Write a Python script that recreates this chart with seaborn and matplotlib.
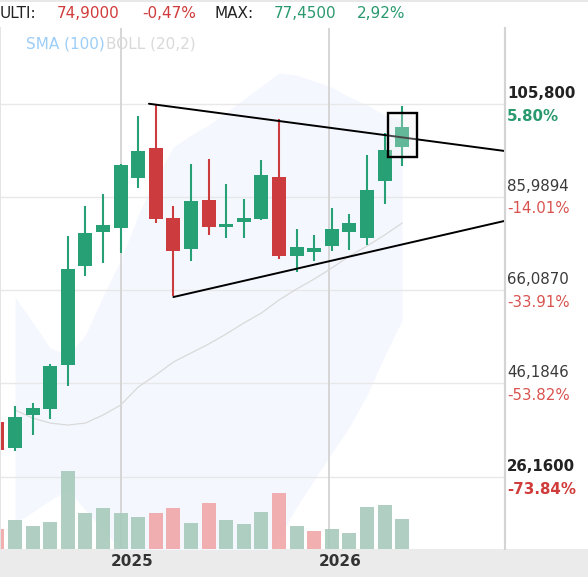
import numpy as np
import matplotlib
matplotlib.use("Agg")
import matplotlib.pyplot as plt
import matplotlib.transforms as mtransforms
from matplotlib.patches import Rectangle
import seaborn as sns

# monthly candles, oldest first (the first one is cut by the left edge)
opens = [37.89, 32.41, 39.39, 40.74, 50.13, 71.27, 78.53, 79.39, 90.06, 96.40, 81.46, 74.90,
         85.30, 79.60, 80.67, 81.31, 90.21, 73.41, 74.20, 75.54, 78.53, 77.25, 89.42, 96.68]
highs = [38.50, 41.31, 41.95, 50.28, 77.61, 84.02, 86.58, 92.99, 103.24, 105.80, 84.02, 92.99,
         94.06, 88.72, 85.51, 93.84, 102.60, 79.11, 77.83, 83.59, 82.31, 94.91, 99.61, 105.37]
lows = [31.50, 31.77, 35.12, 38.54, 45.65, 69.14, 71.91, 74.05, 87.93, 80.45, 64.86, 72.34,
        77.89, 77.25, 77.25, 81.09, 72.77, 69.99, 72.34, 74.47, 74.69, 75.76, 84.51, 92.56]
closes = [31.92, 38.96, 40.88, 49.85, 70.57, 78.25, 79.96, 92.77, 95.76, 81.31, 74.47, 85.09,
          79.60, 80.18, 81.46, 90.64, 73.41, 75.26, 75.05, 79.11, 80.39, 87.44, 95.98, 100.89]

# volume (millions) and whether the bar is drawn green
volumes = [2.0, 2.9, 2.3, 2.7, 7.8, 3.6, 4.1, 3.6, 3.2, 3.6, 4.1, 2.6,
           4.6, 2.9, 2.5, 3.7, 5.6, 2.3, 1.8, 2.0, 1.6, 4.2, 4.4, 3.0]
vol_up = [False, True, True, True, True, True, True, True, True, False, False, True,
          False, True, True, True, False, True, False, True, True, True, True, True]

# bollinger (20,2), starts at the second candle
boll_upper = [64.59, 59.25, 53.70, 52.20, 56.47, 64.80, 72.49, 82.10, 90.21, 96.62, 99.18, 101.32,
              104.09, 106.87, 109.64, 112.42, 111.99, 110.71, 109.43, 107.29, 105.59, 103.45, 102.38]
boll_mid = [40.46, 38.75, 37.68, 37.25, 37.68, 39.39, 41.52, 45.37, 47.93, 50.71, 52.63, 54.55,
            56.69, 59.04, 61.17, 63.95, 66.30, 68.43, 70.78, 73.34, 75.48, 77.83, 80.39]
boll_lower = [16.33, 18.68, 21.24, 23.37, 19.10, 14.83, 10.56, 8.21, 5.86, 4.80, 5.22, 5.86,
              6.72, 6.29, 8.00, 13.12, 19.74, 25.51, 31.28, 36.83, 43.66, 51.99, 59.68]

# triangle trend lines (candle index, price)
upper_line = ([8.61, 28.84], [105.86, 95.76])
lower_line = ([10.0, 28.84], [64.59, 80.86])

year_pos = [7.02, 18.86]
year_labels = ["2025", "2026"]

price_levels = [105.8, 85.9894, 66.087, 46.1846, 26.16]
price_labels = ["105,800", "85,9894", "66,0870", "46,1846", "26,1600"]
pct_labels = ["5.80%", "-14.01%", "-33.91%", "-53.82%", "-73.84%"]

GREEN = "#26a074"
RED = "#cc3b3d"

sns.set_theme(style="white")
plt.rcParams["font.family"] = ["DejaVu Sans"]

W, H = 588, 577
fig = plt.figure(figsize=(W / 100, H / 100), dpi=100)
ax = fig.add_axes([0, 28 / H, 505 / W, 521 / H])
ax.set_xlim(0.148, 28.84)
ax.set_ylim(10.79, 122.03)

idx = np.arange(len(opens))
band_idx = idx[1:]

# bollinger band
ax.fill_between(band_idx, boll_lower, boll_upper, color="#f4f8fe", lw=0, zorder=0)
sns.lineplot(x=band_idx, y=boll_mid, ax=ax, color="#d9d9d9", linewidth=0.9, zorder=1)

# grid
for p in price_levels:
    ax.axhline(p, color="#e8e8e8", lw=1.0, zorder=0.5)
for x in year_pos:
    ax.axvline(x, color="#d6d6d6", lw=1.4, zorder=0.5)

# candles
o = np.array(opens)
c = np.array(closes)
cols = [GREEN if cc >= oo else RED for oo, cc in zip(o, c)]
ax.vlines(idx, lows, highs, colors=cols, lw=1.5, zorder=2)
ax.bar(idx, np.maximum(np.abs(c - o), 0.25), bottom=np.minimum(o, c), width=0.795,
       color=cols, lw=0, zorder=2)

# trend lines
ax.plot(upper_line[0], upper_line[1], color="black", lw=1.4, zorder=3)
ax.plot(lower_line[0], lower_line[1], color="black", lw=1.4, zorder=3)

# highlight on last candle
last = idx[-1]
lo = min(o[-1], c[-1]) - 2.2
hi = max(o[-1], c[-1]) + 3.0
ax.add_patch(Rectangle((last - 0.82, lo), 1.64, hi - lo, facecolor=(0.94, 0.94, 0.94, 0.3),
                       edgecolor="black", lw=1.7, zorder=4))

# volume on its own scale
vax = ax.twinx()
vax.set_ylim(0, 52.1)
vcols = ["#a9cbbd" if u else "#f0a8aa" for u in vol_up]
vax.bar(idx, volumes, width=0.79, color=vcols, alpha=0.92, lw=0)
vax.set_yticks([])

for a in (ax, vax):
    a.set_xticks([])
    a.set_yticks([])
    a.patch.set_visible(False)
    for s in ("top", "bottom"):
        a.spines[s].set_visible(False)
    a.spines["left"].set_color("#e4e4e4")
    a.spines["left"].set_linewidth(1.4)
    a.spines["right"].set_color("#d4d4d4")
    a.spines["right"].set_linewidth(1.5)

# right price labels
blend_y = mtransforms.blended_transform_factory(ax.transAxes, ax.transData)
for i, (p, pl, pc) in enumerate(zip(price_levels, price_labels, pct_labels)):
    bold = i in (0, len(price_levels) - 1)
    pcol = "#2a9a6e" if pc[0] != "-" else ("#d03b3b" if bold else "#d9534f")
    ax.annotate(pl, xy=(507 / 505, p), xycoords=blend_y, xytext=(0, 4.2),
                textcoords="offset points", ha="left", va="baseline", fontsize=10.8,
                color="#222222" if bold else "#3a3a3a", fontweight="bold" if bold else "normal",
                annotation_clip=False)
    ax.annotate(pc, xy=(507 / 505, p), xycoords=blend_y, xytext=(0, -12.0),
                textcoords="offset points", ha="left", va="baseline", fontsize=10.8,
                color=pcol, fontweight="bold" if bold else "normal", annotation_clip=False)

# x axis strip and year labels
fig.add_artist(Rectangle((0, 0), 1, 28 / H, transform=fig.transFigure,
                         facecolor="#ebebeb", lw=0, zorder=-1))
fig.add_artist(Rectangle((0, 1 - 2 / H), 1, 2 / H, transform=fig.transFigure,
                         facecolor="#e8e8e8", lw=0, zorder=-1))
blend_x = mtransforms.blended_transform_factory(ax.transData, ax.transAxes)
for x, lab in zip(year_pos, year_labels):
    ax.annotate(lab, xy=(x, 0), xycoords=blend_x, xytext=(7.9, -12.3),
                textcoords="offset points", ha="center", va="baseline", fontsize=11,
                fontweight="bold", color="#333333", annotation_clip=False)

# header
def ftext(xpx, ypx, s, **kw):
    fig.text(xpx / W, 1 - ypx / H, s, va="baseline", ha="left", **kw)

ftext(0, 17.5, "ULTI:", fontsize=11, color="#222222")
ftext(57, 17.5, "74,9000", fontsize=11, color="#d03b3b")
ftext(142, 17.5, "-0,47%", fontsize=11, color="#d03b3b")
ftext(214, 17.5, "MAX:", fontsize=11, color="#222222")
ftext(274, 17.5, "77,4500", fontsize=11, color="#2a9a6e")
ftext(357, 17.5, "2,92%", fontsize=11, color="#2a9a6e")
ftext(25.5, 48.5, "SMA (100)", fontsize=11, color="#9ccdf7")
ftext(106, 48.5, "BOLL (20,2)", fontsize=11, color="#d9d9d9")

fig.savefig("out.png", dpi=100)
